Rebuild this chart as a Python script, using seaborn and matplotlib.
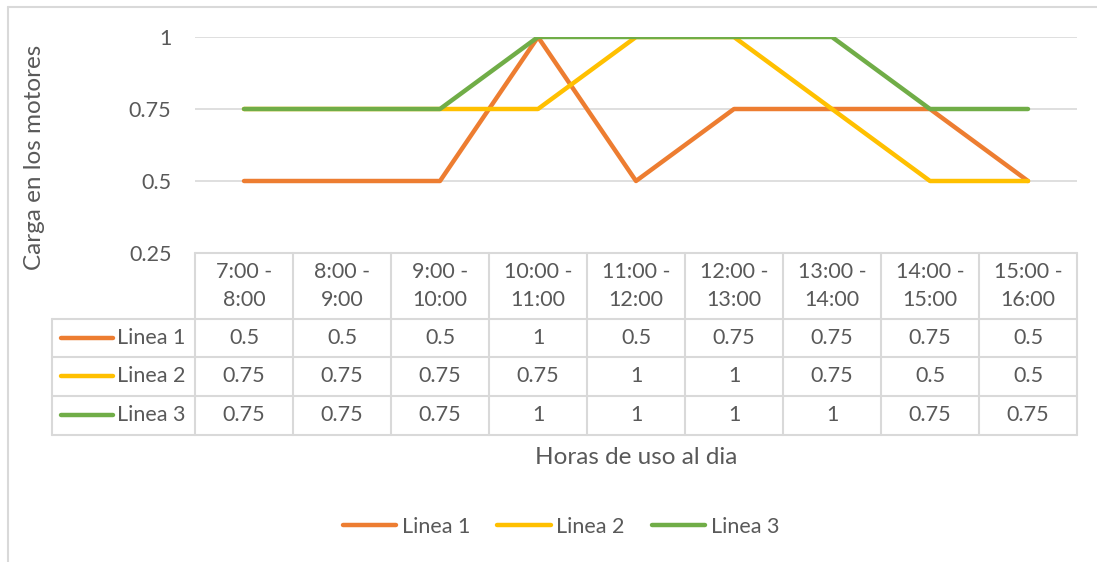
import matplotlib.pyplot as plt
import pandas as pd
import seaborn as sns
from matplotlib.lines import Line2D
from matplotlib.transforms import blended_transform_factory
plt.switch_backend('agg')

horas = ["7:00 -\n8:00", "8:00 -\n9:00", "9:00 -\n10:00", "10:00 -\n11:00", "11:00 -\n12:00",
         "12:00 -\n13:00", "13:00 -\n14:00", "14:00 -\n15:00", "15:00 -\n16:00"]
linea1 = [0.5, 0.5, 0.5, 1, 0.5, 0.75, 0.75, 0.75, 0.5]
linea2 = [0.75, 0.75, 0.75, 0.75, 1, 1, 0.75, 0.5, 0.5]
linea3 = [0.75, 0.75, 0.75, 1, 1, 1, 1, 0.75, 0.75]
series = ["Linea 1", "Linea 2", "Linea 3"]
colores = ["#ED7D31", "#FFC000", "#70AD47"]
y_ticks = [0.25, 0.5, 0.75, 1]

sns.set_style("white")
plt.rcParams['font.family'] = ['Lato', 'DejaVu Sans']
txt = "#595959"
grid = "#D9D9D9"
fs = 15.5

df = pd.DataFrame({"pos": list(range(len(horas))) * 3,
                   "valor": linea1 + linea2 + linea3,
                   "serie": sum([[s] * len(horas) for s in series], [])})

fig = plt.figure(figsize=(10.97, 5.62), dpi=100)
W, H = 1097, 562
ax = fig.add_axes([195 / W, 1 - 253 / H, 882 / W, 216 / H])

sns.lineplot(data=df, x="pos", y="valor", hue="serie", palette=colores, ax=ax,
             linewidth=3.2, legend=False, solid_capstyle="round")

ax.set_xlim(-0.5, len(horas) - 0.5)
ax.set_ylim(0.25, 1)
ax.set_yticks(y_ticks)
ax.set_yticklabels(["0.25", "0.5", "0.75", "1"])
ax.set_xticks([])
ax.set_xlabel("")
ax.set_ylabel("")
for s in ax.spines.values():
    s.set_visible(False)
for v in y_ticks[1:]:
    ax.axhline(v, color=grid, lw=1.2, zorder=0)
ax.tick_params(axis="y", length=0, labelsize=fs, labelcolor=txt, pad=17)

# data table below the plot
tr = blended_transform_factory(ax.transData, ax.transAxes)
def ya(px):
    return (253 - px) / 216
row_edges = [ya(253), ya(319), ya(357), ya(396), ya(435)]
x_left = (52 - 195) / 98 - 0.5
n = len(horas)
lk = dict(color=grid, lw=1.5, transform=tr, clip_on=False)
ax.add_line(Line2D([-0.5, n - 0.5], [row_edges[0]] * 2, **lk))
for ye in row_edges[1:]:
    ax.add_line(Line2D([x_left, n - 0.5], [ye] * 2, **lk))
for i in range(n + 1):
    ax.add_line(Line2D([i - 0.5, i - 0.5], [row_edges[0], row_edges[-1]], **lk))
ax.add_line(Line2D([x_left, x_left], [row_edges[1], row_edges[-1]], **lk))

for i, h in enumerate(horas):
    ax.text(i, (row_edges[0] + row_edges[1]) / 2, h, transform=tr, ha="center", va="center",
            fontsize=fs, color=txt, linespacing=1.45)
for r, (vals, name, c) in enumerate(zip([linea1, linea2, linea3], series, colores)):
    yc = (row_edges[r + 1] + row_edges[r + 2]) / 2
    ax.add_line(Line2D([(61 - 195) / 98 - 0.5, (113 - 195) / 98 - 0.5], [yc, yc], color=c, lw=3.2,
                       solid_capstyle="round", transform=tr, clip_on=False))
    ax.text((117 - 195) / 98 - 0.5, yc, name, transform=tr, ha="left", va="center",
            fontsize=fs, color=txt)
    for i, v in enumerate(vals):
        ax.text(i, yc, f"{v:g}", transform=tr, ha="center", va="center", fontsize=fs, color=txt)

fig.text(636 / W, 1 - 457 / H, "Horas de uso al dia", ha="center", va="center", fontsize=17.5, color=txt)
fig.text(35 / W, 1 - 157 / H, "Carga en los motores", ha="center", va="center", rotation=90,
         fontsize=17.5, color=txt)

handles = [Line2D([], [], color=c, lw=3.2, solid_capstyle="round") for c in colores]
fig.legend(handles, series, loc="center", bbox_to_anchor=(561 / W, 1 - 527 / H), ncol=3,
           frameon=False, fontsize=fs, labelcolor=txt, handlelength=2.5, handletextpad=0.25,
           columnspacing=1.25)

# outer chart border
fig.add_artist(Line2D([8 / W, 1], [1 - 7 / H] * 2, color=grid, lw=1.5, transform=fig.transFigure))
fig.add_artist(Line2D([8 / W, 8 / W], [1 - 7 / H, 0], color=grid, lw=1.5, transform=fig.transFigure))

plt.savefig("out.png", dpi=100)
